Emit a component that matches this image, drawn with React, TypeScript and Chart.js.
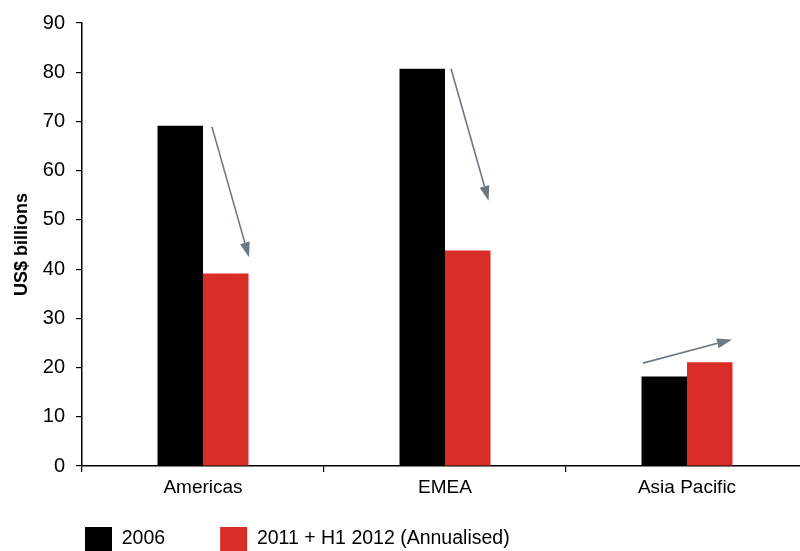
import React, { useEffect, useRef } from "react";
import { Chart, registerables } from "chart.js";

Chart.register(...registerables);

const categories = ["Americas", "EMEA", "Asia Pacific"];
const seriesLabels = ["2006", "2011 + H1 2012 (Annualised)"];
const values2006 = [69.1, 80.7, 18.2];
const values2011 = [39.1, 43.8, 21.1];
const yTicks = [0, 10, 20, 30, 40, 50, 60, 70, 80, 90];
// arrows in data units (category index, value)
const arrowStartX = [0.037, 1.025, 1.818];
const arrowStartY = [68.9, 80.7, 20.9];
const arrowEndX = [0.19, 1.18, 2.186];
const arrowEndY = [42.4, 53.9, 25.7];

const FONT = "'Liberation Sans', Arial, sans-serif";

const arrowPlugin = {
  id: "trendArrows",
  afterLayout(chart: any) {
    // let the x labels draw below the thin x-axis box (labels are clipped to the scale box)
    const xs = chart.scales.x;
    if (xs) xs.bottom = xs.top + 40;
  },
  afterDatasetsDraw(chart: any) {
    const { ctx, scales } = chart;
    const xs = scales.x;
    const ys = scales.y;
    ctx.save();
    ctx.strokeStyle = "#6d7881";
    ctx.fillStyle = "#6d7881";
    ctx.lineWidth = 1.6;
    for (let i = 0; i < arrowStartX.length; i++) {
      const x1 = xs.getPixelForValue(arrowStartX[i]);
      const y1 = ys.getPixelForValue(arrowStartY[i]);
      const x2 = xs.getPixelForValue(arrowEndX[i]);
      const y2 = ys.getPixelForValue(arrowEndY[i]);
      const ang = Math.atan2(y2 - y1, x2 - x1);
      const headLen = 15;
      const headW = 5;
      const bx = x2 - headLen * Math.cos(ang);
      const by = y2 - headLen * Math.sin(ang);
      ctx.beginPath();
      ctx.moveTo(x1, y1);
      ctx.lineTo(bx, by);
      ctx.stroke();
      ctx.beginPath();
      ctx.moveTo(x2, y2);
      ctx.lineTo(bx + headW * Math.sin(ang), by - headW * Math.cos(ang));
      ctx.lineTo(bx - headW * Math.sin(ang), by + headW * Math.cos(ang));
      ctx.closePath();
      ctx.fill();
    }
    ctx.restore();
  },
};

export default function App() {
  const ref = useRef<HTMLCanvasElement | null>(null);
  useEffect(() => {
    if (!ref.current) return;
    const chart = new Chart(ref.current, {
      type: "bar",
      data: {
        labels: categories,
        datasets: [
          {
            label: seriesLabels[0],
            data: values2006,
            backgroundColor: "#000000",
            borderWidth: 0,
          },
          {
            label: seriesLabels[1],
            data: values2011,
            backgroundColor: "#d92d27",
            borderWidth: 0,
          },
        ],
      },
      options: {
        animation: false,
        responsive: false,
        maintainAspectRatio: false,
        devicePixelRatio: 1,
        layout: { padding: { top: 22, left: 30, right: 2, bottom: 0 } },
        datasets: {
          bar: { categoryPercentage: 0.376, barPercentage: 1 },
        },
        plugins: {
          tooltip: { enabled: false },
          legend: {
            position: "bottom",
            align: "start",
            labels: {
              boxWidth: 27,
              boxHeight: 24,
              padding: 55,
              color: "#000",
              font: { family: FONT, size: 19.5 },
            },
          },
        },
        scales: {
          x: {
            grid: {
              display: true,
              drawOnChartArea: false,
              drawTicks: true,
              tickLength: 6,
              color: "#000",
              lineWidth: 1.2,
            },
            border: { display: true, color: "#000", width: 1.5 },
            ticks: {
              color: "#000",
              padding: 4,
              font: { family: FONT, size: 19 },
              maxRotation: 0,
              autoSkip: false,
            },
            afterFit(scale: any) {
              scale.height = 6;
            },
          },
          y: {
            min: 0,
            max: 90,
            afterBuildTicks(scale: any) {
              scale.ticks = yTicks.map((v) => ({ value: v }));
            },
            grid: {
              display: true,
              drawOnChartArea: false,
              drawTicks: true,
              tickLength: 6,
              color: "#000",
              lineWidth: 1.2,
            },
            border: { display: true, color: "#000", width: 1.5 },
            ticks: {
              color: "#000",
              padding: 11,
              font: { family: FONT, size: 20 },
            },
            title: {
              display: true,
              text: "US$ billions",
              color: "#000",
              font: { family: FONT, size: 18, weight: "bold" },
              padding: { top: -18.5, bottom: 0 },
            },
            afterFit(scale: any) {
              scale.width = 52;
            },
          },
        },
      },
      plugins: [arrowPlugin],
    });
    return () => chart.destroy();
  }, []);
  return (
    <div
      style={{
        position: "absolute",
        left: 0,
        top: 0,
        width: 800,
        height: 551,
        overflow: "hidden",
        background: "#fff",
      }}
    >
      <canvas ref={ref} width={810} height={561} style={{ display: "block" }} />
    </div>
  );
}
